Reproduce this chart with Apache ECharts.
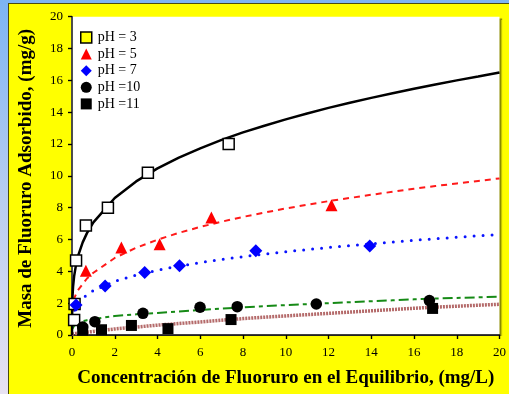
<!DOCTYPE html>
<html>
<head>
<meta charset="utf-8">
<script src="https://cdn.jsdelivr.net/npm/echarts@6/dist/echarts.min.js"></script>
<style>
html,body{margin:0;padding:0;width:509px;height:394px;overflow:hidden;}
body{background:linear-gradient(to bottom,#7db4f4 0%,#b8cdf0 50%,#e8e2f2 100%);position:relative;}
#panel{position:absolute;left:8px;top:3px;width:501px;height:391px;background:#ffff00;border-left:1px solid #4a4a10;border-top:1px solid #4a4a10;box-sizing:border-box;}
#chart{position:absolute;left:0;top:0;width:509px;height:394px;}
</style>
</head>
<body>
<div id="panel"></div>
<div id="chart"></div>
<script>
// ---- data ----
const seriesNames = ['pH = 3', 'pH = 5', 'pH = 7', 'pH =10', 'pH =11'];
const xTicks = [0, 2, 4, 6, 8, 10, 12, 14, 16, 18, 20];
const yTicks = [0, 2, 4, 6, 8, 10, 12, 14, 16, 18, 20];

const ph3X = [0.1, 0.12, 0.19, 0.65, 1.68, 3.55, 7.33];
const ph3Y = [0.94, 1.95, 4.68, 6.88, 8.0, 10.2, 12.0];
const ph5X = [0.65, 2.31, 4.1, 6.52, 12.14];
const ph5Y = [4.04, 5.5, 5.71, 7.39, 8.16];
const ph7X = [0.19, 1.55, 3.4, 5.03, 8.6, 13.93];
const ph7Y = [1.88, 3.08, 3.93, 4.35, 5.3, 5.59];
const ph10X = [0.5, 1.07, 3.32, 5.99, 7.73, 11.43, 16.72];
const ph10Y = [0.5, 0.84, 1.36, 1.74, 1.78, 1.95, 2.16];
const ph11X = [0.5, 1.38, 2.78, 4.49, 7.44, 16.87];
const ph11Y = [0.31, 0.33, 0.6, 0.4, 0.97, 1.67];

// fitted curves, values
const fitX   = [0, 0.01, 0.02, 0.05, 0.1, 0.2, 0.3, 0.5, 0.7,
                1, 2, 3, 4, 5, 6, 7, 8, 9, 10, 11, 12, 13, 14, 15, 16, 17, 18, 19, 20];
const fit3Y  = [0, 1.93, 2.35, 3.04, 3.70, 4.50, 5.04, 5.82, 6.40,
                7.08, 8.61, 9.65, 10.47, 11.15, 11.73, 12.26, 12.73, 13.15, 13.55, 13.92, 14.27, 14.59, 14.90, 15.19, 15.47, 15.74, 16.0, 16.24, 16.49];
const fit5Y  = [null, null, 1.5, 2.0, 2.3, 2.6, 2.85, 3.2, 3.55,
                3.91, 4.84, 5.48, 5.99, 6.42, 6.79, 7.12, 7.42, 7.69, 7.95, 8.18, 8.41, 8.61, 8.81, 9.00, 9.19, 9.36, 9.52, 9.68, 9.84];
const fit7Y  = [null, null, 1.0, 1.25, 1.5, 1.8, 2.0, 2.31, 2.52,
                2.79, 3.37, 3.77, 4.07, 4.33, 4.55, 4.75, 4.92, 5.08, 5.23, 5.37, 5.50, 5.62, 5.73, 5.84, 5.95, 6.05, 6.14, 6.23, 6.32];
const fit10Y = [null, null, 0.4, 0.5, 0.58, 0.68, 0.75, 0.87, 0.93,
                1.0, 1.2, 1.3, 1.38, 1.48, 1.57, 1.66, 1.74, 1.81, 1.88, 1.94, 2.0, 2.06, 2.12, 2.18, 2.24, 2.29, 2.33, 2.37, 2.40];
const fit11Y = [0.06, 0.06, 0.06, 0.07, 0.08, 0.1, 0.12, 0.15, 0.18,
                0.22, 0.38, 0.5, 0.62, 0.72, 0.82, 0.93, 1.03, 1.12, 1.2, 1.28, 1.36, 1.44, 1.52, 1.6, 1.68, 1.75, 1.81, 1.87, 1.93];

const zip = (xs, ys) => xs.map((x, i) => [x, ys[i]]).filter(p => p[1] !== null);

const serif = '"Liberation Serif","Times New Roman",serif';
const chart = echarts.init(document.getElementById('chart'), null, {renderer: 'canvas'});

function fitLine(ys, lineStyle) {
  return {
    type: 'line', data: zip(fitX, ys), showSymbol: false, symbol: 'none',
    smooth: false, silent: true, z: 2, lineStyle: lineStyle
  };
}

const option = {
  animation: false,
  backgroundColor: 'transparent',
  grid: {left: 72, right: 7.3, top: 16.7, bottom: 59, show: true, backgroundColor: '#ffffff',
         borderWidth: 0, shadowColor: 'rgba(0,0,0,0.45)', shadowOffsetX: 2, shadowOffsetY: 1, shadowBlur: 1},
  legend: {
    orient: 'vertical', left: 80, top: 30.5, padding: 0, itemWidth: 11, itemHeight: 11, itemGap: 2.6,
    textStyle: {fontFamily: serif, fontSize: 14, color: '#000', lineHeight: 14, padding: [0, 0, 0, 1]},
    data: [
      {name: seriesNames[0], itemStyle: {color: '#ffff00', borderColor: '#000', borderWidth: 1.5}},
      seriesNames[1], seriesNames[2], seriesNames[3], seriesNames[4]
    ]
  },
  xAxis: [{
    type: 'value', min: xTicks[0], max: xTicks[xTicks.length - 1], interval: 2, position: 'bottom',
    name: 'Concentración de Fluoruro en el Equilibrio, (mg/L)', nameLocation: 'middle', nameGap: 34,
    nameTextStyle: {fontFamily: serif, fontSize: 19, fontWeight: 'bold', color: '#000'},
    axisLine: {lineStyle: {color: '#000', width: 1.5}},
    axisTick: {inside: false, length: 4, lineStyle: {color: '#000', width: 1.2}},
    axisLabel: {fontFamily: serif, fontSize: 13, color: '#000', margin: 11},
    splitLine: {show: false}
  }, {
    type: 'value', min: xTicks[0], max: xTicks[xTicks.length - 1], interval: 2, position: 'top',
    axisLine: {lineStyle: {color: '#222', width: 1}},
    axisTick: {inside: true, length: 4, lineStyle: {color: '#000', width: 1.2}},
    axisLabel: {show: false}, splitLine: {show: false}
  }],
  yAxis: [{
    type: 'value', min: yTicks[0], max: yTicks[yTicks.length - 1], interval: 2, position: 'left',
    name: 'Masa de Fluoruro Adsorbido, (mg/g)', nameLocation: 'middle', nameGap: 36,
    nameTextStyle: {fontFamily: serif, fontSize: 19, fontWeight: 'bold', color: '#000', padding: [0, 5, 0, 0]},
    axisLine: {lineStyle: {color: '#000', width: 1.5}},
    axisTick: {inside: false, length: 4, lineStyle: {color: '#000', width: 1.2}},
    axisLabel: {fontFamily: serif, fontSize: 13, color: '#000', margin: 9},
    splitLine: {show: false}
  }, {
    type: 'value', min: yTicks[0], max: yTicks[yTicks.length - 1], interval: 2, position: 'right',
    axisLine: {lineStyle: {color: '#555', width: 1.5}},
    axisTick: {inside: true, length: 4, lineStyle: {color: '#000', width: 1.2}},
    axisLabel: {show: false}, splitLine: {show: false}
  }],
  series: [
    fitLine(fit11Y, {color: '#b46a6a', width: 3.5, type: [2, 1]}),
    fitLine(fit10Y, {color: '#168a16', width: 2, type: [10, 4, 4, 4]}),
    fitLine(fit7Y, {color: '#0a14ff', width: 3, type: [0, 9], cap: 'round'}),
    fitLine(fit5Y, {color: '#ff1a1a', width: 2, type: [6, 5]}),
    fitLine(fit3Y, {color: '#000000', width: 2.5, type: 'solid'}),
    {name: seriesNames[0], type: 'scatter', data: zip(ph3X, ph3Y), symbol: 'rect', symbolSize: 11, z: 5,
     itemStyle: {color: '#ffffff', borderColor: '#000', borderWidth: 1.5, opacity: 1}},
    {name: seriesNames[1], type: 'scatter', data: zip(ph5X, ph5Y), symbol: 'triangle', symbolSize: 12, z: 5,
     itemStyle: {color: '#ff0000', opacity: 1}},
    {name: seriesNames[2], type: 'scatter', data: zip(ph7X, ph7Y), symbol: 'diamond', symbolSize: 13, z: 5,
     itemStyle: {color: '#0000ff', opacity: 1}},
    {name: seriesNames[3], type: 'scatter', data: zip(ph10X, ph10Y), symbol: 'circle', symbolSize: 11.5, z: 5,
     itemStyle: {color: '#000000', opacity: 1}},
    {name: seriesNames[4], type: 'scatter', data: zip(ph11X, ph11Y), symbol: 'rect', symbolSize: 11, z: 5,
     itemStyle: {color: '#000000', opacity: 1}}
  ]
};
chart.setOption(option);
</script>
</body>
</html>
